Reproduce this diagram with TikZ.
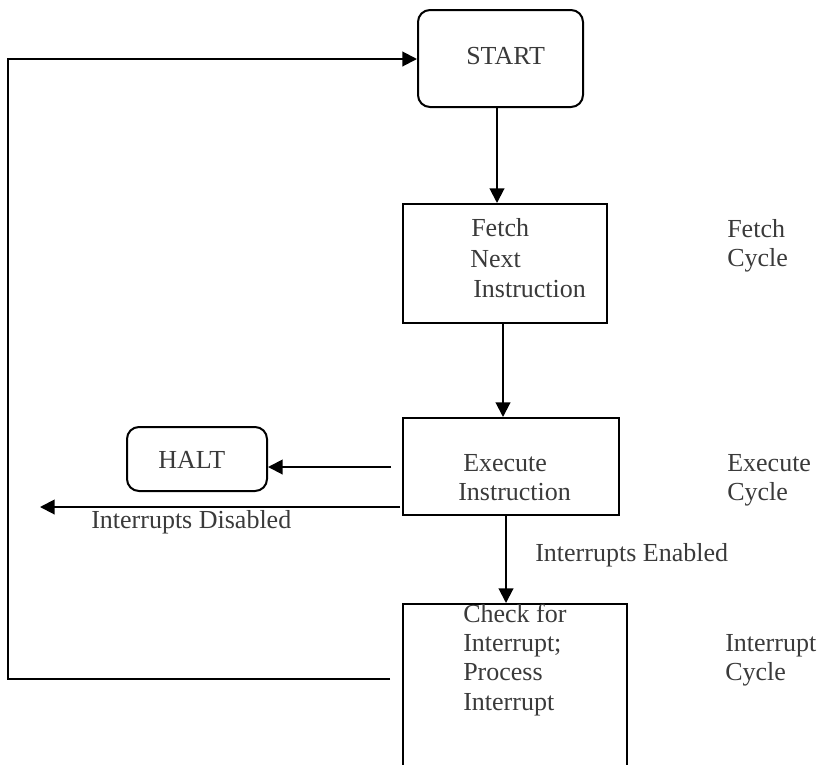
\documentclass[tikz,border=0pt]{standalone}
\usepackage{fontspec}
\setmainfont{Liberation Serif}
\usetikzlibrary{arrows.meta,fit}
\definecolor{txt}{HTML}{3A3A3A}
\begin{document}
\begin{tikzpicture}[x=0.75pt,y=-0.75pt,
  box/.style={draw=black, line width=1.5pt, inner sep=0pt, rectangle},
  rbox/.style={box, rounded corners=9pt},
  lbl/.style={anchor=base west, inner sep=0pt, text=txt, font=\fontsize{19.5}{23}\selectfont},
  arr/.style={-{Triangle[length=11pt,width=11pt]}, line width=1.5pt}]
\useasboundingbox (0,0) rectangle (823,764);
\clip (0,0) rectangle (823,764);
% boxes
\node[rbox, fit={(418,10) (583,107)}] (start) {};
\node[box, fit={(403,204) (607,323)}] (fetch) {};
\node[box, fit={(403,418) (619,515)}] (exec) {};
\node[rbox, fit={(127,427) (267,491)}] (halt) {};
\node[box, fit={(403,604) (627,800)}] (check) {};
% texts
\node[lbl] (tstart) at (466,64) {START};
\node[lbl] (tf1) at (471,236) {Fetch};
\node[lbl] (tf2) at (470,267) {Next};
\node[lbl] (tf3) at (473,297) {Instruction};
\node[lbl] (cf1) at (727,237) {Fetch};
\node[lbl] (cf2) at (727,266) {Cycle};
\node[lbl] (th) at (158,468) {HALT};
\node[lbl] (te1) at (463,471) {Execute};
\node[lbl] (te2) at (458,500) {Instruction};
\node[lbl] (ce1) at (727,471) {Execute};
\node[lbl] (ce2) at (727,500) {Cycle};
\node[lbl] (tdis) at (91,528) {Interrupts Disabled};
\node[lbl] (tena) at (535,561) {Interrupts Enabled};
\node[lbl] (tc1) at (463,622) {Check for};
\node[lbl] (tc2) at (463,651) {Interrupt;};
\node[lbl] (tc3) at (463,680) {Process};
\node[lbl] (tc4) at (463,710) {Interrupt};
\node[lbl] (ci1) at (725,651) {Interrupt};
\node[lbl] (ci2) at (725,680) {Cycle};
% connectors
\coordinate (c1) at (497,0);
\coordinate (c2) at (503,0);
\coordinate (c3) at (506,0);
\draw[arr] (start.south -| c1) -- (fetch.north -| c1);
\draw[arr] (fetch.south -| c2) -- (exec.north -| c2);
\draw[arr] (exec.south -| c3) -- (check.north -| c3);
\coordinate (h0) at (391,467);
\draw[arr] (h0) -- (halt.east |- h0);
\coordinate (d0) at (400,507);
\coordinate (d1) at (40,507);
\draw[arr] (d0) -- (d1);
\coordinate (l0) at (390,679);
\coordinate (l1) at (8,679);
\coordinate (l2) at (8,59);
\draw[arr] (l0) -- (l1) -- (l2) -- (start.west |- l2);
\end{tikzpicture}
\end{document}
